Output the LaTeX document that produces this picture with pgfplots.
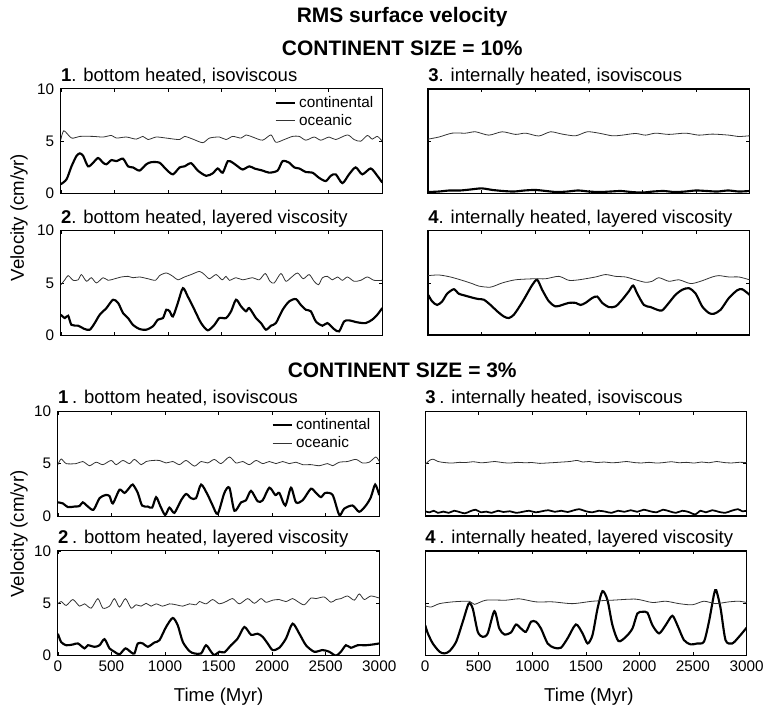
\documentclass[border=0pt]{standalone}
\usepackage{fontspec}
\setmainfont{Liberation Sans}
\usepackage{pgfplots}
\pgfplotsset{compat=1.18}
\newcommand\ticksize{\fontsize{11.5pt}{13pt}\selectfont}
\newcommand\ttlsize{\fontsize{13.9pt}{16pt}\selectfont}
\pgfplotsset{
  pnl/.style={
    scale only axis, width=241.5pt, height=78.75pt,
    anchor=north west,
    xmin=0, xmax=3000, ymin=0, ymax=10,
    xtick={0,500,...,3000}, ytick={0,5,10},
    tick align=inside, major tick length=2.5pt,
    every tick/.style={black, line width=0.5pt},
    axis line style={line width=0.7pt},
    tick label style={font=\ticksize},
    /pgf/number format/assume math mode=true,
    /pgf/number format/set thousands separator={},
    xticklabels={},
    yticklabel style={xshift=-1.5pt},
    every axis title shift=0pt,
    title style={at={(0,1)}, anchor=base west, yshift=5.6pt, inner sep=0pt, font=\ttlsize},
    clip=true,
    legend cell align=left,
    legend image code/.code={\draw[##1] (0pt,0pt) -- (15pt,0pt);},
    legend style={draw=none, fill=none, at={(0.981,0.955)}, anchor=north east,
      font=\fontsize{11.5pt}{12pt}\selectfont, inner sep=0pt, row sep=-0.5pt},
  },
  cont/.style={black, line width=1.6pt, smooth, tension=0.45, no marks},
  ocea/.style={black!80, line width=0.6pt, smooth, tension=0.45, no marks},
  rightp/.style={yticklabels={}},
  botp/.style={xticklabels={0,500,1000,1500,2000,2500,3000}, xticklabel style={yshift=-0.5pt}},
}
\begin{document}
\begin{tikzpicture}
\path (0,0) rectangle (576pt,-531.75pt);
% headings
\node[anchor=base, font=\fontsize{15.75pt}{18pt}\selectfont\bfseries, inner sep=0pt] at (302.25pt,-17pt) {RMS surface velocity};
\node[anchor=base, font=\fontsize{15.75pt}{18pt}\selectfont\bfseries, inner sep=0pt] at (302.25pt,-41.5pt) {CONTINENT SIZE = 10\%};
\node[anchor=base, font=\fontsize{15.75pt}{18pt}\selectfont\bfseries, inner sep=0pt] at (302.25pt,-284pt) {CONTINENT SIZE = 3\%};
\node[rotate=90, font=\fontsize{14pt}{16pt}\selectfont, inner sep=0pt] at (14.25pt,-163.5pt) {Velocity (cm/yr)};
\node[rotate=90, font=\fontsize{14pt}{16pt}\selectfont, inner sep=0pt] at (14.25pt,-401.25pt) {Velocity (cm/yr)};
\node[anchor=base, font=\fontsize{14pt}{16pt}\selectfont, inner sep=0pt] at (164.25pt,-527.25pt) {Time (Myr)};
\node[anchor=base, font=\fontsize{14pt}{16pt}\selectfont, inner sep=0pt] at (442.5pt,-527.25pt) {Time (Myr)};

% ---------- 10% panel 1
\begin{axis}[pnl, at={(45.75pt,-66.75pt)}, title={\textbf{1}. bottom heated, isoviscous}]
\addplot[cont] coordinates {(0,0.9)(53,1.37)(99,2.6)(146,3.6)(177,3.84)(208,3.6)(254,2.6)(301,2.95)(347,3.4)(394,2.95)(425,2.8)(472,3.2)(518,3.1)(580,3.33)(627,2.6)(673,2.5)(735,2.2)(797,2.8)(844,3.0)(921,2.95)(984,2.3)(1046,1.84)(1108,2.5)(1154,2.6)(1216,2.9)(1278,2.2)(1356,1.7)(1418,1.94)(1464,2.4)(1511,2.0)(1558,3.1)(1604,2.95)(1651,2.6)(1697,2.3)(1759,2.6)(1806,2.4)(1883,2.2)(1945,2.0)(2023,2.2)(2070,3.1)(2132,2.95)(2178,2.5)(2225,2.4)(2287,2.06)(2349,2.0)(2411,1.5)(2473,1.2)(2519,1.7)(2566,1.84)(2628,1.0)(2690,1.84)(2752,2.5)(2814,1.84)(2892,2.4)(2954,1.7)(3000,1.05)};
\addlegendentry{continental}
\addplot[ocea] coordinates {(0,5.16)(28,6.0)(100,5.3)(177,5.46)(300,5.46)(394,5.4)(472,5.55)(518,5.3)(611,5.4)(704,5.2)(766,5.46)(813,5.16)(890,5.4)(984,5.3)(1108,5.16)(1154,5.46)(1232,5.2)(1325,4.86)(1387,5.3)(1480,5.4)(1542,5.16)(1604,5.46)(1682,5.3)(1728,5.6)(1790,5.4)(1883,5.1)(1961,5.6)(2007,4.9)(2085,5.16)(2163,5.46)(2225,5.46)(2287,5.1)(2364,5.4)(2426,5.1)(2504,5.4)(2566,5.16)(2675,5.6)(2737,5.16)(2799,5.0)(2861,5.55)(2907,5.2)(2954,5.46)(3000,5.0)};
\addlegendentry{oceanic}
\end{axis}

% ---------- 10% panel 3
\begin{axis}[pnl, rightp, at={(321.75pt,-66.75pt)}, axis line style={line width=1.3pt}, title={\textbf{3}. internally heated, isoviscous}]
\addplot[cont] coordinates {(0,0.15)(100,0.2)(200,0.3)(300,0.3)(400,0.4)(500,0.5)(600,0.35)(700,0.25)(800,0.2)(900,0.3)(1000,0.35)(1100,0.25)(1200,0.15)(1300,0.2)(1400,0.3)(1500,0.2)(1600,0.15)(1700,0.2)(1800,0.25)(1900,0.15)(2000,0.1)(2100,0.2)(2200,0.25)(2300,0.15)(2400,0.2)(2500,0.3)(2600,0.25)(2700,0.2)(2800,0.3)(2900,0.2)(3000,0.25)};
\addplot[ocea] coordinates {(0,5.2)(100,5.4)(224,5.77)(349,5.77)(442,5.9)(566,5.58)(691,5.9)(815,5.65)(909,5.77)(1033,5.5)(1142,5.9)(1251,5.68)(1376,5.52)(1485,5.9)(1594,5.77)(1718,5.52)(1811,5.58)(1936,5.74)(2029,5.58)(2123,5.77)(2247,5.65)(2403,5.77)(2527,5.58)(2652,5.68)(2807,5.58)(2901,5.45)(3000,5.52)};
\end{axis}

% ---------- 10% panel 2
\begin{axis}[pnl, at={(45.75pt,-173.25pt)}, title={\textbf{2}. bottom heated, layered viscosity}]
\addplot[cont] coordinates {(0,1.97)(37,1.65)(68,1.87)(99,1.0)(161,0.92)(223,0.6)(270,0.54)(316,1.17)(363,1.97)(425,2.6)(487,3.4)(534,3.1)(580,2.13)(627,1.65)(673,1.0)(735,0.6)(797,0.54)(859,0.86)(906,1.5)(953,1.65)(984,2.44)(1015,2.3)(1046,1.8)(1092,3.1)(1139,4.5)(1185,3.7)(1247,2.44)(1309,1.17)(1371,0.48)(1433,1.0)(1480,1.65)(1542,1.65)(1589,2.3)(1635,3.4)(1682,2.76)(1728,2.3)(1759,2.6)(1821,1.65)(1868,1.17)(1914,0.54)(1961,0.92)(2007,1.17)(2070,2.44)(2132,3.25)(2194,3.46)(2240,2.9)(2287,2.44)(2333,2.3)(2380,1.33)(2442,0.92)(2488,1.17)(2550,0.6)(2597,0.38)(2644,1.33)(2690,1.43)(2768,1.24)(2845,1.17)(2907,1.5)(2954,1.97)(3000,2.6)};
\addplot[ocea] coordinates {(0,4.83)(37,5.3)(68,5.7)(115,5.25)(161,5.3)(192,5.8)(239,5.16)(285,5.5)(332,5.0)(394,5.5)(441,5.25)(503,5.4)(565,5.57)(627,5.63)(673,5.5)(735,5.57)(813,5.4)(884,5.25)(921,5.7)(984,5.95)(1046,5.63)(1092,5.3)(1154,5.57)(1216,5.8)(1294,6.1)(1340,5.8)(1387,5.4)(1449,5.8)(1505,5.3)(1542,5.63)(1573,5.25)(1635,5.5)(1697,5.3)(1790,5.5)(1852,5.3)(1908,5.9)(1952,5.16)(1992,5.0)(2054,5.9)(2100,5.16)(2147,5.5)(2209,5.95)(2262,5.4)(2318,5.8)(2364,5.16)(2405,4.83)(2442,5.5)(2488,5.63)(2535,5.3)(2582,5.57)(2628,5.25)(2675,5.57)(2737,5.16)(2799,5.25)(2861,5.57)(2923,5.25)(3000,5.25)};
\end{axis}

% ---------- 10% panel 4
\begin{axis}[pnl, rightp, at={(321.75pt,-173.25pt)}, axis line style={line width=1.3pt}, title={\textbf{4}. internally heated, layered viscosity}]
\addplot[cont] coordinates {(0,3.87)(37,3.24)(84,2.9)(131,3.24)(177,3.97)(240,4.4)(286,3.97)(349,3.78)(426,3.56)(473,3.46)(520,3.4)(582,2.9)(644,2.3)(706,1.8)(753,1.65)(800,1.97)(862,2.9)(909,3.7)(971,4.8)(1018,5.3)(1064,4.35)(1127,3.24)(1189,2.76)(1251,2.9)(1313,3.1)(1376,3.1)(1422,2.9)(1469,3.1)(1531,3.56)(1578,3.7)(1625,3.1)(1687,2.7)(1749,2.76)(1811,3.4)(1873,4.2)(1914,4.75)(1951,4.0)(2014,2.9)(2076,2.7)(2138,2.44)(2185,2.38)(2247,3.1)(2309,3.87)(2372,4.35)(2434,4.5)(2496,4.0)(2558,2.76)(2621,2.13)(2667,2.06)(2730,2.44)(2807,3.56)(2885,4.3)(2932,4.4)(3000,3.87)};
\addplot[ocea] coordinates {(0,5.7)(100,5.76)(208,5.57)(317,5.25)(411,4.94)(473,4.7)(582,4.6)(691,5.0)(815,5.3)(987,5.4)(1096,5.4)(1220,5.63)(1313,5.25)(1407,5.3)(1562,5.57)(1656,5.8)(1749,5.63)(1843,5.57)(1936,5.3)(2029,5.06)(2091,5.16)(2154,5.5)(2247,5.16)(2341,5.3)(2449,4.94)(2543,5.16)(2652,5.57)(2714,5.7)(2807,5.57)(2901,5.57)(3000,5.3)};
\end{axis}

% ---------- 3% panel 1
\begin{axis}[pnl, at={(43.5pt,-309pt)}, title={\textbf{1}\hspace{0.2em}. bottom heated, isoviscous}]
\addplot[cont] coordinates {(0,1.3)(47,1.2)(93,0.85)(155,0.9)(202,0.95)(233,1.3)(280,0.9)(333,0.6)(389,1.7)(445,2.0)(482,1.9)(513,1.2)(575,2.5)(622,2.2)(668,2.7)(699,3.0)(746,2.2)(786,1.0)(839,0.9)(880,0.8)(917,1.8)(954,1.0)(1001,0.1)(1041,0.8)(1088,0.3)(1150,1.5)(1197,2.1)(1243,1.7)(1290,1.7)(1337,3.0)(1399,2.0)(1445,1.0)(1492,0.2)(1554,2.2)(1601,2.7)(1648,0.5)(1710,1.3)(1756,1.5)(1803,2.4)(1865,1.4)(1912,1.5)(1974,2.7)(2030,2.0)(2067,2.2)(2123,1.0)(2176,2.7)(2223,1.3)(2285,1.5)(2362,2.6)(2409,2.2)(2456,1.8)(2496,2.2)(2565,2.0)(2627,0.1)(2673,0.7)(2751,1.0)(2813,0.4)(2875,1.0)(2922,1.8)(2962,3.0)(3000,2.0)};
\addlegendentry{continental}
\addplot[ocea] coordinates {(0,4.9)(31,5.44)(78,5.0)(171,5.0)(233,5.2)(295,4.8)(357,5.13)(420,4.9)(497,5.3)(544,4.9)(606,5.3)(668,5.0)(715,5.4)(777,4.9)(824,5.2)(886,5.3)(948,5.3)(1010,5.06)(1072,5.2)(1135,4.9)(1197,5.3)(1274,4.76)(1337,5.2)(1399,5.06)(1461,5.4)(1523,5.0)(1601,5.63)(1663,5.06)(1725,5.2)(1787,4.9)(1850,5.3)(1912,5.0)(1974,5.2)(2036,5.0)(2098,5.2)(2160,5.0)(2223,5.13)(2285,4.9)(2362,4.9)(2440,4.8)(2518,5.0)(2564,4.8)(2627,5.13)(2704,5.2)(2782,5.4)(2844,5.06)(2906,5.13)(2968,5.63)(3000,5.2)};
\addlegendentry{oceanic}
\end{axis}

% ---------- 3% panel 3
\begin{axis}[pnl, rightp, at={(319.5pt,-309pt)}, axis line style={line width=1pt}, title={\textbf{3}\hspace{0.2em}. internally heated, isoviscous}]
\addplot[cont, line width=1.3pt] coordinates {(0,0.45)(40,0.35)(80,0.5)(120,0.3)(170,0.42)(220,0.3)(270,0.5)(320,0.38)(370,0.25)(420,0.45)(470,0.6)(520,0.35)(570,0.42)(620,0.3)(680,0.5)(730,0.38)(790,0.45)(850,0.3)(910,0.4)(970,0.5)(1030,0.35)(1090,0.45)(1150,0.55)(1210,0.4)(1270,0.5)(1330,0.38)(1390,0.55)(1440,0.65)(1500,0.45)(1560,0.35)(1620,0.5)(1680,0.42)(1740,0.3)(1800,0.5)(1860,0.4)(1920,0.55)(1980,0.4)(2040,0.6)(2100,0.45)(2160,0.35)(2220,0.6)(2280,0.45)(2340,0.3)(2400,0.5)(2460,0.38)(2520,0.15)(2570,0.5)(2620,0.35)(2680,0.55)(2740,0.4)(2800,0.3)(2860,0.5)(2920,0.65)(2960,0.45)(3000,0.5)};
\addplot[ocea] coordinates {(0,4.9)(40,5.3)(75,5.42)(120,5.2)(180,5.1)(250,5.05)(320,5.12)(380,5.1)(450,5.18)(520,5.08)(580,5.12)(650,5.2)(720,5.1)(790,5.05)(860,5.12)(930,5.08)(1000,5.1)(1070,5.02)(1140,5.06)(1210,5.1)(1280,5.15)(1350,5.2)(1420,5.3)(1470,5.15)(1530,5.2)(1600,5.1)(1670,5.15)(1740,5.08)(1810,5.12)(1880,5.2)(1950,5.1)(2020,5.06)(2090,5.12)(2160,5.05)(2230,5.1)(2300,5.18)(2370,5.08)(2440,5.12)(2510,5.05)(2580,5.15)(2650,5.08)(2720,5.2)(2790,5.1)(2860,5.06)(2930,5.12)(3000,5.1)};
\end{axis}

% ---------- 3% panel 2
\begin{axis}[pnl, botp, at={(43.5pt,-414pt)}, title={\textbf{2}\hspace{0.2em}. bottom heated, layered viscosity}]
\addplot[cont] coordinates {(0,2.1)(31,1.3)(78,1.0)(140,1.07)(187,1.17)(249,0.7)(280,1.0)(342,0.85)(389,1.0)(435,1.58)(482,0.7)(528,0.38)(575,0.13)(631,0.7)(684,0.32)(715,0.22)(746,1.17)(793,1.17)(839,0.85)(901,1.26)(948,1.48)(1010,2.74)(1072,3.6)(1119,2.9)(1166,1.32)(1228,0.44)(1274,0.22)(1337,0.22)(1383,1.0)(1430,0.38)(1461,0.06)(1508,0.38)(1554,0.32)(1616,1.0)(1678,1.64)(1741,2.74)(1803,2.0)(1865,2.1)(1912,1.8)(1958,1.17)(2005,0.54)(2067,0.76)(2129,1.64)(2191,3.06)(2254,2.1)(2316,1.0)(2394,0.38)(2471,0.54)(2533,0.38)(2596,0.0)(2642,0.38)(2689,1.0)(2735,0.76)(2798,1.0)(2875,1.0)(2937,1.07)(3000,1.17)};
\addplot[ocea] coordinates {(0,4.95)(31,5.17)(78,4.8)(140,5.36)(202,4.73)(249,4.95)(311,4.54)(373,5.45)(420,4.54)(482,4.73)(528,5.45)(575,4.64)(631,5.45)(684,4.54)(730,4.86)(777,4.73)(824,5.0)(870,4.73)(917,4.95)(979,4.73)(1041,4.95)(1104,4.86)(1166,4.73)(1228,4.95)(1290,4.86)(1321,5.17)(1383,4.95)(1445,5.36)(1508,4.95)(1570,5.17)(1632,5.45)(1694,4.95)(1772,5.45)(1834,5.0)(1896,5.45)(1943,5.1)(2005,5.3)(2067,5.36)(2129,5.17)(2191,5.45)(2238,5.17)(2300,4.86)(2362,5.5)(2409,5.45)(2487,5.6)(2549,5.1)(2596,5.36)(2642,5.45)(2704,5.7)(2767,5.3)(2813,5.9)(2860,5.36)(2922,5.7)(3000,5.5)};
\end{axis}

% ---------- 3% panel 4
\begin{axis}[pnl, rightp, botp, at={(319.5pt,-414pt)}, axis line style={line width=1pt}, title={\textbf{4}\hspace{0.2em}. internally heated, layered viscosity}]
\addplot[cont] coordinates {(0,2.92)(25,2.13)(71,1.17)(134,0.38)(180,0.22)(227,0.44)(289,1.33)(351,3.24)(407,4.98)(444,4.5)(491,2.29)(537,1.8)(584,2.13)(646,4.25)(692,2.6)(739,2.03)(801,2.22)(848,2.98)(894,2.6)(941,2.29)(988,3.24)(1034,3.24)(1081,2.6)(1143,1.17)(1205,0.76)(1267,0.76)(1329,1.65)(1407,2.98)(1469,2.13)(1516,1.17)(1562,1.97)(1609,4.5)(1655,6.16)(1702,5.3)(1748,2.92)(1804,1.4)(1873,1.8)(1935,2.6)(1981,4.03)(2028,4.19)(2075,4.1)(2121,2.92)(2183,2.13)(2245,2.92)(2307,3.81)(2354,2.92)(2416,1.49)(2478,1.08)(2540,1.17)(2602,1.33)(2649,3.24)(2696,5.84)(2717,6.25)(2758,4.5)(2804,1.49)(2866,1.17)(2929,1.8)(3000,2.67)};
\addplot[ocea] coordinates {(0,4.76)(56,4.65)(134,4.97)(258,5.14)(413,5.2)(460,4.9)(568,5.3)(755,5.3)(879,5.43)(1034,5.14)(1190,5.14)(1376,4.97)(1562,5.2)(1748,5.3)(1966,5.4)(2121,5.08)(2245,5.2)(2370,4.97)(2494,4.86)(2602,5.2)(2711,4.97)(2835,5.14)(2929,5.2)(3000,5.08)};
\end{axis}
\end{tikzpicture}
\end{document}
